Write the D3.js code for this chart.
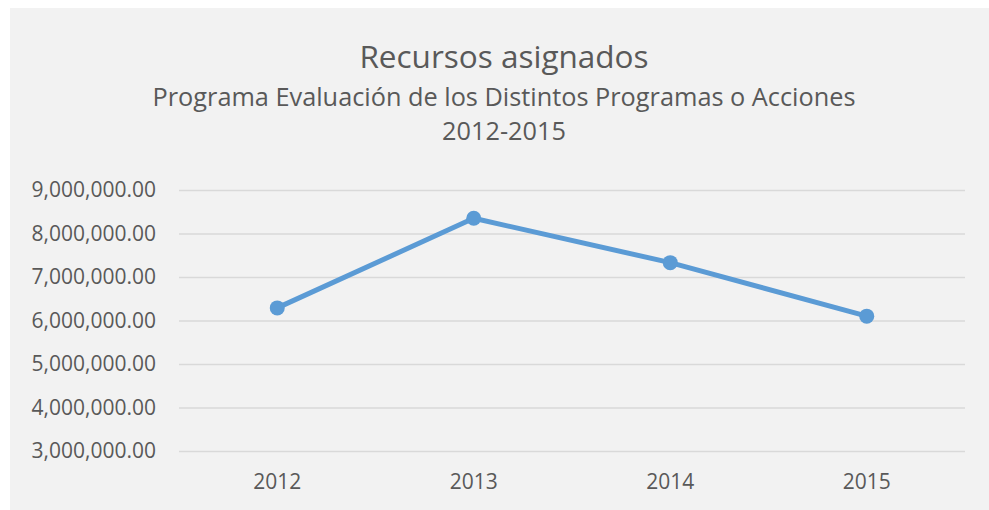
<!DOCTYPE html>
<html>
<head>
<meta charset="utf-8">
<script src="https://cdn.jsdelivr.net/npm/d3@7"></script>
<style>
  body { margin: 0; background: #ffffff; }
  text { font-family: "Open Sans", sans-serif; fill: #595959; }
</style>
</head>
<body>
<script>
// data
const years = ["2012", "2013", "2014", "2015"];
const recursos = [6290000, 8350000, 7330000, 6100000];
const yTicks = [3000000, 4000000, 5000000, 6000000, 7000000, 8000000, 9000000];

const title = "Recursos asignados";
const subtitle = ["Programa Evaluación de los Distintos Programas o Acciones", "2012-2015"];

// parameters
const w = 989;
const h = 510;
const margin = { top: 190, right: 24, bottom: 59, left: 179 };

const svg = d3.select("body")
  .append("svg")
  .attr("width", w)
  .attr("height", h);

// chart area background
svg.append("rect")
  .attr("x", 10)
  .attr("y", 8)
  .attr("width", w - 10)
  .attr("height", h - 8)
  .attr("fill", "#f2f2f2");

// titles
svg.append("text")
  .attr("x", 504)
  .attr("y", 68)
  .attr("text-anchor", "middle")
  .style("font-size", "31.5px")
  .text(title);

svg.selectAll(".subtitle")
  .data(subtitle)
  .enter()
  .append("text")
  .attr("class", "subtitle")
  .attr("x", 504)
  .attr("y", (d, i) => 106 + i * 34)
  .attr("text-anchor", "middle")
  .style("font-size", "25.3px")
  .text(d => d);

// scales
const xScale = d3.scaleBand()
  .domain(years)
  .range([margin.left, w - margin.right]);

const yScale = d3.scaleLinear()
  .domain([3000000, 9000000])
  .range([h - margin.bottom, margin.top]);

const fmt = d3.format(",.2f");

// y axis / gridlines
const yAxis = d3.axisLeft(yScale)
  .tickValues(yTicks)
  .tickSize(-(w - margin.left - margin.right))
  .tickPadding(23)
  .tickFormat(fmt);

const gy = svg.append("g")
  .attr("transform", "translate(" + margin.left + ",0)")
  .call(yAxis);
gy.select(".domain").remove();
gy.selectAll(".tick line")
  .attr("stroke", "#d9d9d9")
  .attr("stroke-width", 1.5);
gy.selectAll(".tick text")
  .style("font-size", "21px")
  .style("font-family", "'Open Sans', sans-serif")
  .attr("fill", "#595959");

// x axis
const xAxis = d3.axisBottom(xScale).tickSize(0).tickPadding(23);
const gx = svg.append("g")
  .attr("transform", "translate(0," + (h - margin.bottom) + ")")
  .call(xAxis);
gx.select(".domain").remove();
gx.selectAll(".tick text")
  .style("font-size", "21px")
  .style("font-family", "'Open Sans', sans-serif")
  .attr("fill", "#595959");

// line
const line = d3.line()
  .x((d, i) => xScale(years[i]) + xScale.bandwidth() / 2)
  .y(d => yScale(d));

svg.append("path")
  .datum(recursos)
  .attr("d", line)
  .attr("fill", "none")
  .attr("stroke", "#5b9bd5")
  .attr("stroke-width", 5)
  .attr("stroke-linejoin", "round");

svg.selectAll(".dot")
  .data(recursos)
  .enter()
  .append("circle")
  .attr("class", "dot")
  .attr("cx", (d, i) => xScale(years[i]) + xScale.bandwidth() / 2)
  .attr("cy", d => yScale(d))
  .attr("r", 7.5)
  .attr("fill", "#5b9bd5");
</script>
</body>
</html>
